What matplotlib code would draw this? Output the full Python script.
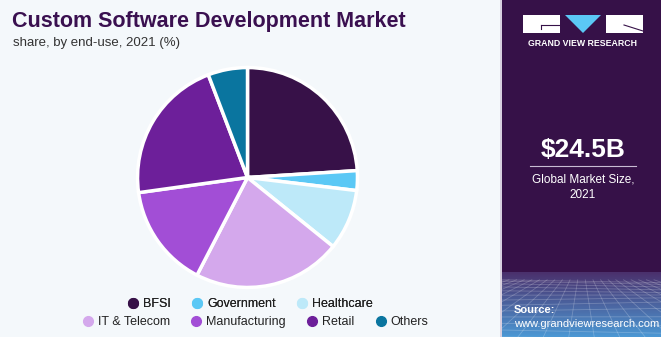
import numpy as np
import matplotlib.pyplot as plt
from matplotlib.patches import Rectangle, Polygon
from matplotlib.lines import Line2D

# market share by end-use, 2021 (%)
segments = ["BFSI", "Government", "Healthcare", "IT & Telecom",
            "Manufacturing", "Retail", "Others"]
shares = [24.0, 2.9, 8.9, 21.8, 15.2, 21.4, 5.8]
colors = ["#371148", "#5bc8f5", "#bde9f9", "#d4a8ec",
          "#a24ed6", "#6d1f9a", "#0a759f"]

bg = "#f4f8fb"
panel = "#361148"

fig = plt.figure(figsize=(6.61, 3.37), dpi=100, facecolor=bg)
W, H = 661, 337


def fx(x):
    return x / W


def fy(y):
    return 1 - y / H


# pie
ax = fig.add_axes([fx(137), fy(288), fx(221), 221 / H])
wedges, _ = ax.pie(shares, colors=colors, startangle=90, counterclock=False,
                   wedgeprops=dict(edgecolor="white", linewidth=2.5))
ax.set_xlim(-1.005, 1.005)
ax.set_ylim(-1.005, 1.005)
ax.set_aspect("equal")

# titles
fig.text(fx(12), fy(22), "Custom Software Development Market", fontsize=15.5,
         fontweight="bold", color="#3a1050", family="Liberation Sans", va="center")
fig.text(fx(13), fy(43), "share, by end-use, 2021 (%)", fontsize=9.5,
         color="#333333", family="Liberation Sans", va="center")

# legend, two rows
def handle(c):
    return Line2D([], [], marker="o", linestyle="", markersize=7,
                  markerfacecolor=c, markeredgecolor=c)

leg1 = fig.legend([handle(c) for c in colors[:3]], segments[:3], ncol=3,
                  loc="center", bbox_to_anchor=(fx(250), fy(304)), frameon=False,
                  prop=dict(family="Liberation Sans", size=9), handletextpad=0.3,
                  columnspacing=1.6, handlelength=1.0)
for t in leg1.get_texts():
    t.set_color("#222222")
leg2 = fig.legend([handle(c) for c in colors[3:]], segments[3:], ncol=4,
                  loc="center", bbox_to_anchor=(fx(255), fy(322)), frameon=False,
                  prop=dict(family="Liberation Sans", size=9), handletextpad=0.3,
                  columnspacing=1.6, handlelength=1.0)
for t in leg2.get_texts():
    t.set_color("#222222")
fig.add_artist(leg1)

# right panel
fig.patches.append(Rectangle((fx(500), 0), fx(2), 1, transform=fig.transFigure,
                             facecolor="#d8d0e0", edgecolor="none", zorder=-2))
fig.patches.append(Rectangle((fx(502), 0), 1 - fx(502), 1, transform=fig.transFigure,
                             facecolor=panel, edgecolor="none", zorder=-2))

# bottom gradient with grid
gax = fig.add_axes([fx(502), 0, 1 - fx(502), fy(272)])
grad = np.linspace(0, 1, 100)[:, None]
top = np.array([0x4a, 0x30, 0x6c]) / 255
bot = np.array([0x4c, 0x98, 0xd4]) / 255
img = top[None, None, :] * (1 - grad[..., None]) + bot[None, None, :] * grad[..., None]
gax.imshow(img, aspect="auto", extent=[0, 1, 1, 0])
for k in np.linspace(-1.5, 2.5, 26):
    gax.plot([0.5 + (k - 0.5) * 0.3, k], [0.12, 1.0], color="white", alpha=0.22, lw=0.6)
for yy in 0.12 + 0.88 * np.linspace(0.0, 1, 13) ** 1.5:
    gax.plot([0, 1], [yy, yy + 0.05 * np.sin(yy * 9)], color="white", alpha=0.22, lw=0.6)
gax.set_xlim(0, 1)
gax.set_ylim(1, 0)
gax.axis("off")

# logo
fig.patches.append(Rectangle((fx(523), fy(33)), fx(37), 18 / H, transform=fig.transFigure,
                             facecolor="white", edgecolor="none"))
fig.patches.append(Polygon([(fx(565), fy(15)), (fx(601), fy(15)), (fx(583), fy(33))],
                           closed=True, transform=fig.transFigure,
                           facecolor="#5bc8f5", edgecolor="none"))
fig.patches.append(Rectangle((fx(606), fy(33)), fx(37), 18 / H, transform=fig.transFigure,
                             facecolor="white", edgecolor="none"))
fig.lines.append(Line2D([fx(541), fx(560)], [fy(25), fy(25)], transform=fig.transFigure,
                        color=panel, lw=0.8))
fig.lines.append(Line2D([fx(541), fx(541)], [fy(25), fy(29)], transform=fig.transFigure,
                        color=panel, lw=0.8))
fig.lines.append(Line2D([fx(624), fx(643)], [fy(25), fy(31)], transform=fig.transFigure,
                        color=panel, lw=0.8))
fig.text(fx(583), fy(44), "GRAND VIEW RESEARCH", fontsize=6.3, fontweight="bold",
         color="white", ha="center", va="center", family="Liberation Sans")

fig.text(fx(583), fy(150), "$24.5B", fontsize=19, fontweight="bold", color="white",
         ha="center", va="center", family="Liberation Sans")
fig.lines.append(Line2D([fx(530), fx(636)], [fy(166), fy(166)], transform=fig.transFigure,
                        color="#c8bcd4", lw=0.8))
fig.text(fx(583), fy(180), "Global Market Size,", fontsize=8.5, color="white",
         ha="center", va="center", family="Liberation Sans")
fig.text(fx(583), fy(195), "2021", fontsize=8.5, color="white",
         ha="center", va="center", family="Liberation Sans")
fig.text(fx(514), fy(310), "Source:", fontsize=8, fontweight="bold", color="white",
         va="center", family="Liberation Sans")
fig.text(fx(514), fy(324), "www.grandviewresearch.com", fontsize=8, color="white",
         va="center", family="Liberation Sans")

fig.savefig("out.png", dpi=100, facecolor=bg)
